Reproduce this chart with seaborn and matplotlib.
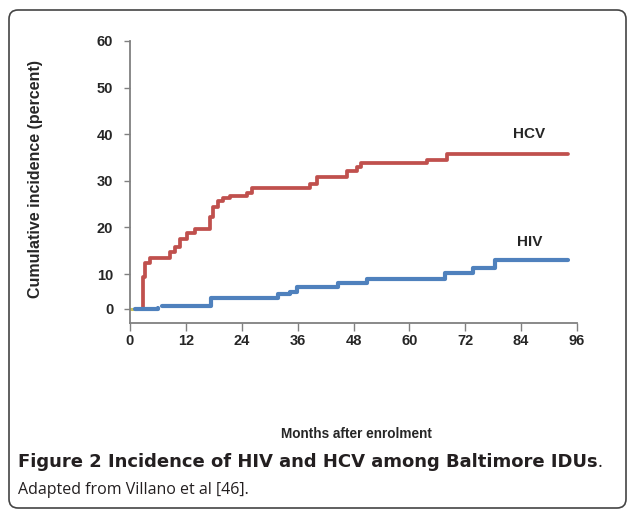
import numpy as np
import pandas as pd
import seaborn as sns
import matplotlib.pyplot as plt
from matplotlib.patches import FancyBboxPatch
from matplotlib.transforms import IdentityTransform

# step change points (month, cumulative % from then on)
hcv_months = [2.5, 2.8, 3.2, 4.3, 8.6, 9.7, 10.7, 12.2, 14.0, 17.2, 17.9, 19.0,
              20.0, 21.5, 25.1, 26.1, 38.7, 40.1, 46.5, 48.7, 49.7, 63.7, 68.0, 94.0]
hcv_pct = [0, 9.2, 12.4, 13.4, 14.8, 15.9, 17.5, 18.8, 19.7, 22.3, 24.4, 25.7,
           26.3, 26.8, 27.4, 28.4, 29.3, 30.9, 32.0, 33.0, 33.8, 34.5, 35.8, 35.8]

hiv_months = [1.1, 6.0, 6.8, 17.5, 31.8, 34.4, 35.8, 44.7, 50.8, 67.6, 73.7, 78.4, 94.0]
hiv_pct = [0, 0.3, 0.9, 3.1, 4.3, 4.9, 6.3, 7.5, 8.6, 10.2, 11.2, 12.9, 12.9]
hiv_piece = [1, 1, 2, 2, 2, 2, 2, 2, 2, 2, 2, 2, 2]  # line is broken near month 6

base_months = [0, 1.5]
base_pct = [0, 0]

x_ticks = [0, 12, 24, 36, 48, 60, 72, 84, 96]
y_ticks = [0, 10, 20, 30, 40, 50, 60]

sns.set_style('white')
plt.rcParams['font.family'] = 'Liberation Sans'

fig = plt.figure(figsize=(6.27, 5.09), dpi=100)
ax = fig.add_axes([130 / 627, 186 / 509, 447 / 627, 282 / 509])

# the source chart squeezes 0-10 compared with the rest of the y axis
kv = [-100, -4, 0, 10, 60, 200]
kh = [-336, 0, 14, 49, 282, 934.4]
fwd = lambda v: np.interp(v, kv, kh)
inv = lambda h: np.interp(h, kh, kv)
ax.set_yscale('function', functions=(fwd, inv))

base = pd.DataFrame({'month': base_months, 'pct': base_pct})
sns.lineplot(data=base, x='month', y='pct', color='#c9c35a', lw=2.2, ax=ax)

hcv = pd.DataFrame({'month': hcv_months, 'pct': hcv_pct})
sns.lineplot(data=hcv, x='month', y='pct', color='#c0504d', lw=2.7,
             drawstyle='steps-post', ax=ax)

hiv = pd.DataFrame({'month': hiv_months, 'pct': hiv_pct, 'piece': hiv_piece})
sns.lineplot(data=hiv, x='month', y='pct', units='piece', estimator=None,
             color='#4f81bd', lw=3, drawstyle='steps-post', ax=ax)

ax.set_xlim(0, 96)
ax.set_ylim(-4, 60)
ax.set_xticks(x_ticks)
ax.set_yticks(y_ticks)
ax.set_xlabel('')
ax.set_ylabel('')
for s in ['top', 'right']:
    ax.spines[s].set_visible(False)
for s in ['left', 'bottom']:
    ax.spines[s].set_color('#808080')
    ax.spines[s].set_linewidth(1.3)
ax.tick_params(axis='y', left=True, direction='out', length=4, width=1,
               color='#808080', pad=8, labelsize=10.5)
ax.tick_params(axis='x', bottom=True, direction='out', length=6, width=1,
               color='#808080', pad=2, labelsize=10.5)
plt.setp(ax.get_xticklabels() + ax.get_yticklabels(), fontweight='bold')

ax.text(85.8, 40, 'HCV', ha='center', va='center', fontweight='bold', fontsize=11)
ax.text(85.8, 16.9, 'HIV', ha='center', va='center', fontweight='bold', fontsize=11)

fig.text(36 / 627, 1 - 179 / 509, 'Cumulative incidence (percent)', rotation=90,
         ha='center', va='center', fontweight='bold', fontsize=11.5)
fig.text(356 / 627, 1 - 434 / 509, 'Months after enrolment', ha='center',
         va='center', fontweight='bold', fontsize=9.8)

cap = fig.text(18 / 627, 1 - 467 / 509, 'Figure 2 Incidence of HIV and HCV among Baltimore IDUs',
               ha='left', va='baseline', fontweight='bold', fontsize=13,
               family='DejaVu Sans', color='#231f20')
ax.annotate('.', xy=(1, 0), xycoords=cap, ha='left', va='bottom', fontsize=13,
            family='Open Sans', color='#231f20', annotation_clip=False)
fig.text(18 / 627, 1 - 494 / 509, 'Adapted from Villano et al [46].', ha='left',
         va='baseline', fontsize=11.5, family='Open Sans', color='#231f20')

frame = FancyBboxPatch((9, 1), 617, 498, boxstyle='round,pad=0,rounding_size=9',
                       transform=IdentityTransform(), fill=False, ec='#444444', lw=1.2)
fig.patches.append(frame)

fig.savefig('out.png', dpi=100)
